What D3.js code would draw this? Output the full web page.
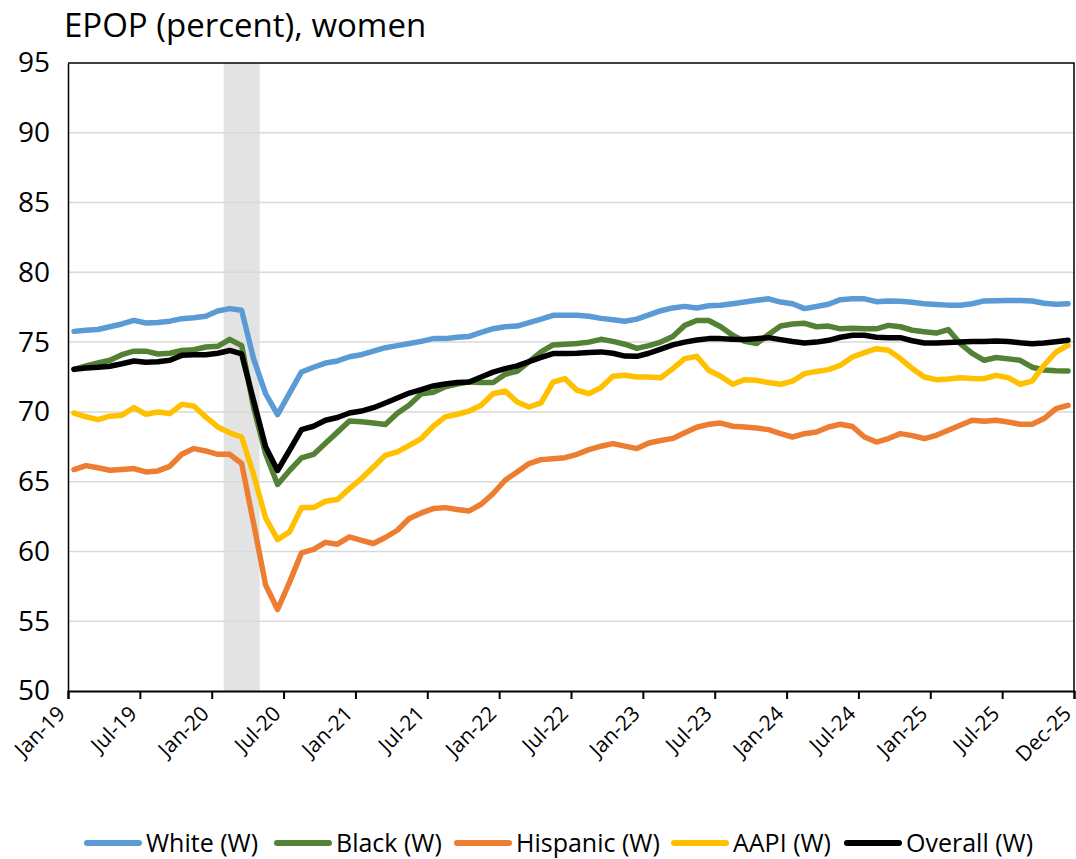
<!DOCTYPE html>
<html>
<head>
<meta charset="utf-8">
<script src="https://cdn.jsdelivr.net/npm/d3@7"></script>
<style>
  html, body { margin: 0; padding: 0; background: #fff; }
  svg { display: block; font-family: "Open Sans", Lato, sans-serif; }
</style>
</head>
<body>
<svg id="chart" width="1076" height="859"></svg>
<script>
// ---- Data (monthly, Jan-19 .. Dec-25) ----
const nMonths = 84;
const tickLabels = ["Jan-19","Jul-19","Jan-20","Jul-20","Jan-21","Jul-21","Jan-22","Jul-22","Jan-23","Jul-23","Jan-24","Jul-24","Jan-25","Jul-25","Dec-25"];
const tickMonths = [0,6,12,18,24,30,36,42,48,54,60,66,72,78,84];
const recession = [13, 16]; // Feb-20 through Apr-20

const white = [75.77,75.85,75.9,76.1,76.3,76.56,76.37,76.4,76.5,76.68,76.75,76.85,77.23,77.4,77.28,
  73.8,71.3,69.8,71.35,72.86,73.2,73.5,73.65,73.95,74.1,74.35,74.6,74.75,74.9,75.05,75.25,75.25,75.35,75.41,75.7,75.96,
  76.1,76.15,76.4,76.65,76.92,76.92,76.92,76.85,76.7,76.6,76.5,76.65,76.95,77.25,77.45,77.56,77.45,77.6,77.64,77.75,
  77.87,78.0,78.1,77.87,77.75,77.4,77.55,77.71,78.04,78.1,78.1,77.9,77.95,77.93,77.85,77.75,77.7,77.65,77.64,77.75,
  77.95,77.97,77.98,77.99,77.95,77.78,77.72,77.75];
const black = [73.05,73.3,73.5,73.7,74.1,74.35,74.35,74.15,74.2,74.4,74.45,74.65,74.7,75.2,74.75,
  70.3,67.0,64.8,65.8,66.7,66.95,67.75,68.55,69.35,69.3,69.2,69.1,69.9,70.5,71.3,71.4,71.8,72.0,72.15,72.1,72.1,
  72.7,72.9,73.6,74.3,74.8,74.85,74.9,75.0,75.2,75.05,74.85,74.55,74.75,75.0,75.4,76.2,76.55,76.55,76.1,75.5,
  75.05,74.9,75.55,76.15,76.3,76.35,76.1,76.15,75.95,76.0,75.95,75.95,76.2,76.1,75.85,75.75,75.65,75.9,74.9,74.2,
  73.7,73.9,73.8,73.7,73.2,73.0,72.95,72.93];
const hispanic = [65.87,66.15,66.0,65.82,65.88,65.94,65.7,65.77,66.1,66.96,67.37,67.2,66.96,66.96,66.3,
  62.0,57.6,55.84,57.8,59.9,60.15,60.65,60.52,61.04,60.8,60.57,61.0,61.52,62.36,62.76,63.07,63.14,63.0,62.9,63.38,64.15,
  65.1,65.7,66.3,66.58,66.65,66.72,66.96,67.3,67.54,67.73,67.55,67.37,67.77,67.95,68.1,68.5,68.9,69.11,69.2,68.97,
  68.92,68.85,68.73,68.45,68.2,68.44,68.56,68.92,69.11,68.95,68.2,67.84,68.09,68.44,68.3,68.09,68.32,68.68,69.04,69.4,
  69.33,69.4,69.28,69.11,69.11,69.52,70.24,70.47];
const aapi = [69.92,69.65,69.45,69.69,69.76,70.31,69.83,69.99,69.88,70.54,70.42,69.64,68.92,68.5,68.2,
  65.5,62.4,60.85,61.4,63.14,63.14,63.6,63.72,64.5,65.22,66.05,66.89,67.13,67.6,68.09,68.97,69.64,69.83,70.06,70.47,71.3,
  71.5,70.71,70.35,70.64,72.14,72.38,71.55,71.31,71.74,72.55,72.62,72.5,72.5,72.45,73.1,73.82,73.98,72.98,72.55,71.98,
  72.31,72.26,72.1,71.98,72.21,72.74,72.9,73.03,73.34,73.93,74.25,74.53,74.41,73.82,73.1,72.5,72.31,72.35,72.45,72.4,
  72.38,72.62,72.45,71.98,72.21,73.34,74.29,74.77];
const overall = [73.05,73.15,73.2,73.27,73.45,73.65,73.55,73.6,73.7,74.05,74.1,74.1,74.2,74.4,74.15,
  70.8,67.5,65.8,67.25,68.73,68.97,69.4,69.6,69.92,70.06,70.3,70.64,71.0,71.35,71.6,71.86,72.0,72.1,72.14,72.5,72.85,
  73.1,73.3,73.6,73.9,74.18,74.18,74.2,74.25,74.3,74.2,74.0,73.98,74.2,74.5,74.8,75.0,75.15,75.25,75.25,75.2,
  75.18,75.25,75.32,75.18,75.05,74.94,75.0,75.13,75.35,75.49,75.49,75.35,75.32,75.32,75.1,74.94,74.94,74.97,75.0,75.05,
  75.05,75.08,75.05,74.95,74.89,74.94,75.03,75.13];

const seriesNames = ["White (W)","Black (W)","Hispanic (W)","AAPI (W)","Overall (W)"];
const seriesValues = [white, black, hispanic, aapi, overall];
const seriesColors = ["#5B9BD5","#548235","#ED7D31","#FFC000","#000000"];
const yTicks = [50,55,60,65,70,75,80,85,90,95];

// ---- Layout ----
const svg = d3.select("#chart");
const plot = {left: 68, right: 1074, top: 63, bottom: 691};
const x = d3.scaleLinear().domain([0, nMonths]).range([plot.left, plot.right]);
const y = d3.scaleLinear().domain([50, 95]).range([plot.bottom, plot.top]);

// recession shading
svg.append("rect")
  .attr("x", x(recession[0])).attr("y", plot.top)
  .attr("width", x(recession[1]) - x(recession[0]))
  .attr("height", plot.bottom - plot.top)
  .attr("fill", "#e3e3e3");

// gridlines
svg.append("g").selectAll("line").data(yTicks.filter(d => d > 50 && d < 95)).join("line")
  .attr("x1", plot.left).attr("x2", plot.right)
  .attr("y1", d => y(d)).attr("y2", d => y(d))
  .attr("stroke", "#d9d9d9").attr("stroke-width", 1.5);

// plot border (top/right)
svg.append("path")
  .attr("d", `M${plot.left},${plot.top}H${plot.right}V${plot.bottom}`)
  .attr("fill", "none").attr("stroke", "#000").attr("stroke-width", 1.5);

// y axis
const yAxis = svg.append("g").attr("transform", `translate(${plot.left},0)`)
  .call(d3.axisLeft(y).tickValues(yTicks).tickSize(0).tickPadding(18));
yAxis.select(".domain").attr("stroke", "#000").attr("stroke-width", 1.5);
yAxis.selectAll("text").attr("font-size", 28).attr("fill", "#000")
  .attr("font-family", "'Open Sans', sans-serif");

// x axis
const xAxis = svg.append("g").attr("transform", `translate(0,${plot.bottom})`)
  .call(d3.axisBottom(x).tickValues(tickMonths).tickSize(8)
    .tickFormat((d, i) => tickLabels[i]));
xAxis.select(".domain").attr("stroke", "#000").attr("stroke-width", 2);
xAxis.selectAll(".tick line").attr("stroke", "#000").attr("stroke-width", 2);
xAxis.selectAll("text")
  .attr("font-size", 21).attr("fill", "#000")
  .attr("font-family", "'Open Sans', sans-serif")
  .attr("text-anchor", "end")
  .attr("dy", null).attr("y", null)
  .attr("transform", "translate(-2,24) rotate(-45)");

// lines
const line = d3.line().x((d, i) => x(i + 0.5)).y(d => y(d));
svg.append("g").selectAll("path").data(seriesValues).join("path")
  .attr("d", d => line(d))
  .attr("fill", "none")
  .attr("stroke", (d, i) => seriesColors[i])
  .attr("stroke-width", 5.5)
  .attr("stroke-linejoin", "round")
  .attr("stroke-linecap", "round");

// title
svg.append("text").attr("x", 64).attr("y", 37)
  .attr("font-size", 33).attr("fill", "#000")
  .text("EPOP (percent), women");

// legend
const legendX = [87, 277, 457, 674, 847];
const lg = svg.append("g").selectAll("g").data(seriesNames).join("g")
  .attr("transform", (d, i) => `translate(${legendX[i]},843)`);
lg.append("line").attr("x1", 0).attr("x2", 52).attr("y1", 0).attr("y2", 0)
  .attr("stroke", (d, i) => seriesColors[i]).attr("stroke-width", 6).attr("stroke-linecap", "round");
lg.append("text").attr("x", 59).attr("y", 9).attr("font-size", 25).attr("fill", "#000").text(d => d);
</script>
</body>
</html>
